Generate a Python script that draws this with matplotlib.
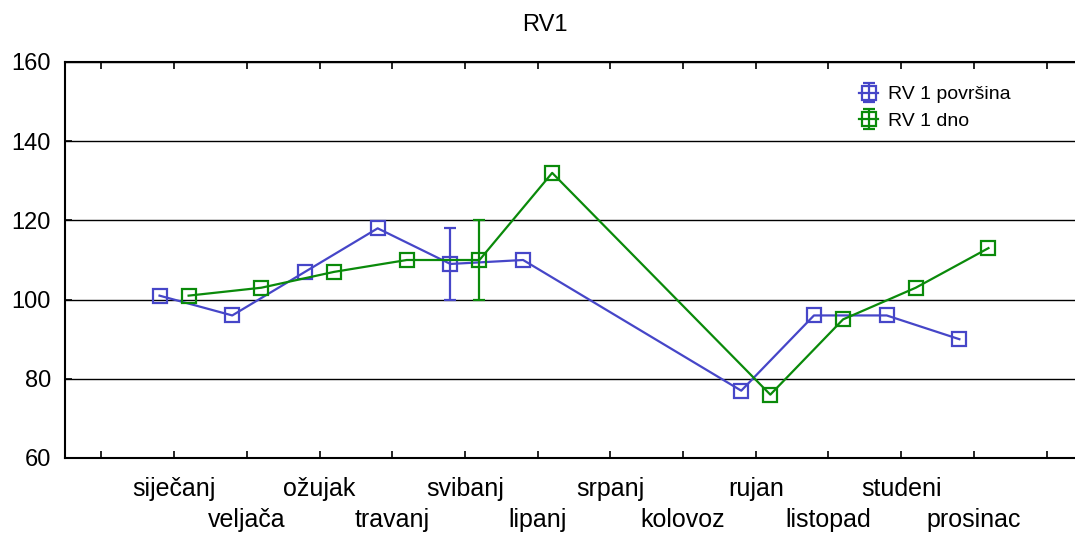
import numpy as np
import matplotlib
matplotlib.use("Agg")
import matplotlib.pyplot as plt

months = ["siječanj", "veljača", "ožujak", "travanj", "svibanj", "lipanj",
          "srpanj", "kolovoz", "rujan", "listopad", "studeni", "prosinac"]
povrsina = [101, 96, 107, 118, 109, 110, None, None, 77, 96, 96, 90]
povrsina_err = [None, None, None, None, 9, None, None, None, None, None, None, None]
dno = [101, 103, 107, 110, 110, 132, None, None, 76, 95, 103, 113]
dno_err = [None, None, None, None, 10, None, None, None, None, None, None, None]
series_names = ["RV 1 površina", "RV 1 dno"]
title = "RV1"

plt.rcParams['font.family'] = ['Liberation Sans', 'DejaVu Sans']

fig = plt.figure(figsize=(10.75, 5.34), dpi=100)
ax = fig.add_axes([65/1075, 1-458/534, 1018/1075, (458-62)/534])

blue = "#4646C8"
green = "#0A8A0A"

def draw(vals, errs, offset, color, label, z):
    x = np.arange(len(vals), dtype=float) + offset
    y = np.array([np.nan if v is None else v for v in vals], dtype=float)
    e = np.array([np.nan if v is None else v for v in errs], dtype=float)
    m = ~np.isnan(y)
    ax.errorbar(x[m], y[m], yerr=e[m], color=color, marker='s', markersize=10.5,
                fillstyle='none', markeredgewidth=1.6, linewidth=1.6,
                capsize=4, elinewidth=1.6, capthick=1.6, label=label, zorder=z)

draw(povrsina, povrsina_err, -0.2, blue, series_names[0], 3)
draw(dno, dno_err, 0.2, green, series_names[1], 4)

ax.set_xlim(-1.5, 12.5)
ax.set_ylim(60, 160)
ax.set_yticks([60, 80, 100, 120, 140, 160])
ax.set_xticks(np.arange(-1, 13))
labels = [""] + months + [""]
ax.set_xticklabels(labels)
ax.tick_params(axis='x', direction='in', length=5, width=1.2, top=True, labelsize=18)
ax.tick_params(axis='y', direction='in', length=5, width=1.2, labelsize=17, pad=10)
for i, t in enumerate(ax.xaxis.get_major_ticks()):
    if 1 <= i <= 12:
        t.set_pad(14 if (i - 1) % 2 == 0 else 36)

for s in ['left', 'bottom', 'top']:
    ax.spines[s].set_linewidth(1.5)
ax.spines['right'].set_visible(False)
ax.grid(axis='y', color='black', linewidth=1.0)
ax.set_axisbelow(True)

fig.text(545/1075, 1-25/534, title, fontsize=17, ha='center', va='center')

leg = ax.legend(loc='upper left', bbox_to_anchor=(0.78, 0.94), frameon=False,
                fontsize=14, handlelength=1.0, handletextpad=0.5,
                labelspacing=0.45, borderpad=0, borderaxespad=0)

fig.savefig("out.png", dpi=100)
